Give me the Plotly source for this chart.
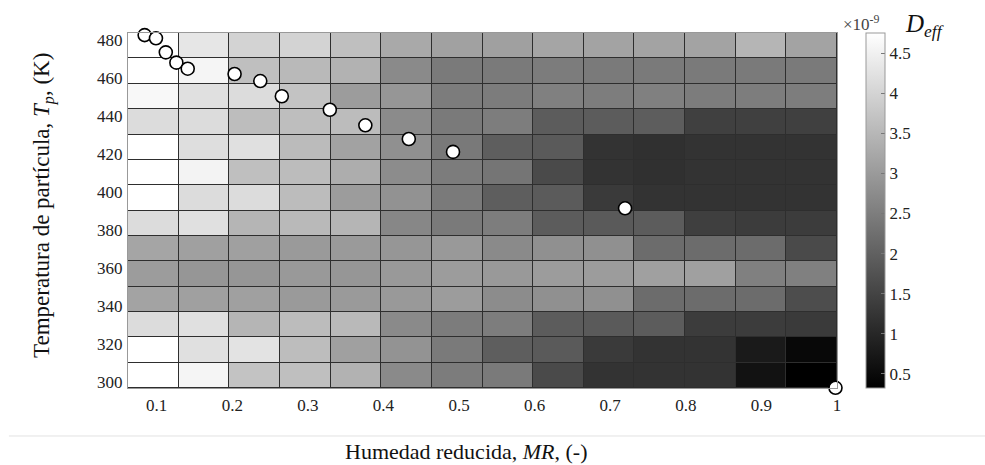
import plotly.graph_objects as go

# Reduced moisture (cell centres) and particle temperature (cell centres)
mr_centers = [0.0955, 0.1625, 0.2295, 0.2965, 0.3635, 0.4305, 0.4975,
              0.5645, 0.6315, 0.6985, 0.7655, 0.8325, 0.8995, 0.9665]
tp_centers = [303.5, 316.8, 330.2, 343.5, 356.9, 370.2, 383.6,
              396.9, 410.2, 423.6, 436.9, 450.3, 463.6, 477.0]

# D_eff (x1e-9), rows from bottom (lowest T) to top
deff = [
    [4.75, 4.58, 3.71, 3.64, 3.41, 2.72, 2.48, 2.44, 1.61, 1.21, 1.21, 1.21, 0.64, 0.33],
    [4.75, 4.21, 4.26, 3.60, 3.10, 2.88, 2.44, 1.95, 1.89, 1.33, 1.21, 1.21, 0.78, 0.46],
    [4.14, 4.21, 3.47, 3.59, 3.54, 2.72, 2.48, 2.50, 1.92, 1.89, 1.92, 1.37, 1.37, 1.33],
    [3.15, 3.10, 3.10, 3.00, 3.00, 2.98, 3.03, 2.75, 2.82, 2.82, 2.20, 2.20, 2.20, 1.66],
    [3.03, 2.93, 2.93, 2.98, 2.93, 2.98, 3.03, 2.98, 3.03, 3.03, 3.10, 3.10, 2.55, 2.55],
    [3.19, 3.10, 3.10, 3.00, 3.00, 2.93, 2.98, 2.72, 2.82, 2.82, 2.20, 2.20, 2.20, 1.61],
    [4.14, 4.21, 3.47, 3.54, 3.47, 2.67, 2.44, 2.50, 1.92, 1.89, 1.92, 1.42, 1.37, 1.37],
    [4.75, 4.14, 4.14, 3.59, 3.03, 2.86, 2.44, 1.95, 1.90, 1.33, 1.21, 1.21, 1.21, 1.21],
    [4.75, 4.54, 3.64, 3.59, 3.33, 2.75, 2.48, 2.35, 1.61, 1.21, 1.16, 1.21, 1.21, 1.21],
    [4.75, 4.18, 4.21, 3.57, 3.14, 2.82, 2.42, 1.95, 1.89, 1.21, 1.16, 1.21, 1.21, 1.21],
    [4.14, 4.14, 3.60, 3.62, 3.59, 2.74, 2.44, 2.50, 1.92, 1.92, 1.94, 1.44, 1.44, 1.44],
    [4.63, 4.21, 4.14, 3.71, 3.03, 2.93, 2.48, 2.48, 2.55, 2.49, 2.55, 2.48, 2.49, 2.49],
    [4.75, 4.58, 3.64, 3.54, 3.41, 2.72, 2.44, 2.44, 2.48, 2.44, 2.44, 2.44, 2.44, 2.44],
    [4.75, 4.32, 3.99, 3.99, 3.64, 3.26, 3.12, 3.10, 3.19, 3.15, 3.15, 3.15, 3.47, 3.15],
]

# Trajectory points (MR, Tp)
traj_mr = [0.084, 0.099, 0.112, 0.126, 0.141, 0.203, 0.237, 0.2655,
           0.329, 0.376, 0.4335, 0.492, 0.7196, 0.998]
traj_tp = [482.6, 480.9, 473.5, 468.1, 464.9, 462.1, 458.4, 450.4,
           443.3, 435.1, 427.9, 421.1, 391.4, 296.9]

x_ticks = [0.1, 0.2, 0.3, 0.4, 0.5, 0.6, 0.7, 0.8, 0.9, 1.0]
x_ticktext = ["0.1", "0.2", "0.3", "0.4", "0.5", "0.6", "0.7", "0.8", "0.9", "1"]
y_ticks = [300, 320, 340, 360, 380, 400, 420, 440, 460, 480]
cb_ticks = [0.5, 1, 1.5, 2, 2.5, 3, 3.5, 4, 4.5]

FONT = "Liberation Serif, Times New Roman, serif"
TXT = "#222222"

fig = go.Figure()
fig.add_trace(go.Heatmap(
    x=mr_centers, y=tp_centers, z=deff,
    zmin=0.325, zmax=4.75,
    colorscale=[[0, "#000000"], [1, "#ffffff"]],
    xgap=1, ygap=1,
    colorbar=dict(
        x=1.041, xanchor="left", xref="paper",
        y=1, yanchor="top", len=1.0, lenmode="fraction", ypad=0, xpad=0,
        thickness=19, outlinecolor="#999999", outlinewidth=1,
        tickvals=cb_ticks, ticks="inside", ticklen=4, tickcolor="#777",
        tickfont=dict(family=FONT, size=17, color=TXT),
    ),
    hoverinfo="skip",
))
fig.add_trace(go.Scatter(
    x=traj_mr, y=traj_tp, mode="markers",
    marker=dict(size=13, color="white", line=dict(color="black", width=1.6)),
    cliponaxis=False, showlegend=False,
))

fig.update_layout(
    width=985, height=465,
    margin=dict(l=128, r=148, t=33, b=77),
    paper_bgcolor="white", plot_bgcolor="#2e2e2e",
    font=dict(family=FONT, size=17, color=TXT),
    xaxis=dict(range=[0.062, 1.0], tickvals=x_ticks, ticktext=x_ticktext,
               showgrid=False, zeroline=False, showline=True, linecolor="#999",
               mirror=True, ticks="", ticklabelstandoff=2, automargin=False,
               tickfont=dict(family=FONT, size=17, color=TXT)),
    yaxis=dict(range=[296.8, 483.7], tickvals=y_ticks,
               showgrid=False, zeroline=False, showline=True, linecolor="#999",
               mirror=True, ticks="", ticklabelstandoff=1, automargin=False,
               tickfont=dict(family=FONT, size=17, color=TXT)),
    shapes=[dict(type="line", xref="paper", yref="paper",
                 x0=-0.168, x1=1.209, y0=-0.1352, y1=-0.1352,
                 line=dict(color="#e2e2e2", width=1))],
    annotations=[
        dict(text="Humedad reducida, <i>MR</i>, (-)", xref="paper", yref="paper",
             x=0.478, y=-0.180, xanchor="center", yanchor="middle",
             showarrow=False, font=dict(family=FONT, size=22, color="#111")),
        dict(text="Temperatura de partícula, <i>T<sub>p</sub></i>, (K)",
             xref="paper", yref="paper", x=-0.1185, y=0.5155, textangle=-90,
             xanchor="center", yanchor="middle",
             showarrow=False, font=dict(family=FONT, size=23, color="#111")),
        dict(text="×10<sup>-9</sup>", xref="paper", yref="paper",
             x=1.0056, y=1.0, xanchor="left", yanchor="bottom", yshift=-3,
             showarrow=False, font=dict(family=FONT, size=17, color="#444")),
        dict(text="<i>D<sub>eff</sub></i>", xref="paper", yref="paper",
             x=1.0934, y=1.0, xanchor="left", yanchor="bottom", yshift=-10,
             showarrow=False, font=dict(family=FONT, size=25, color="#111")),
    ],
)

fig.write_html("out.html", config={"displayModeBar": False},
               post_script="document.body.style.margin='0';document.body.style.overflow='hidden';")
